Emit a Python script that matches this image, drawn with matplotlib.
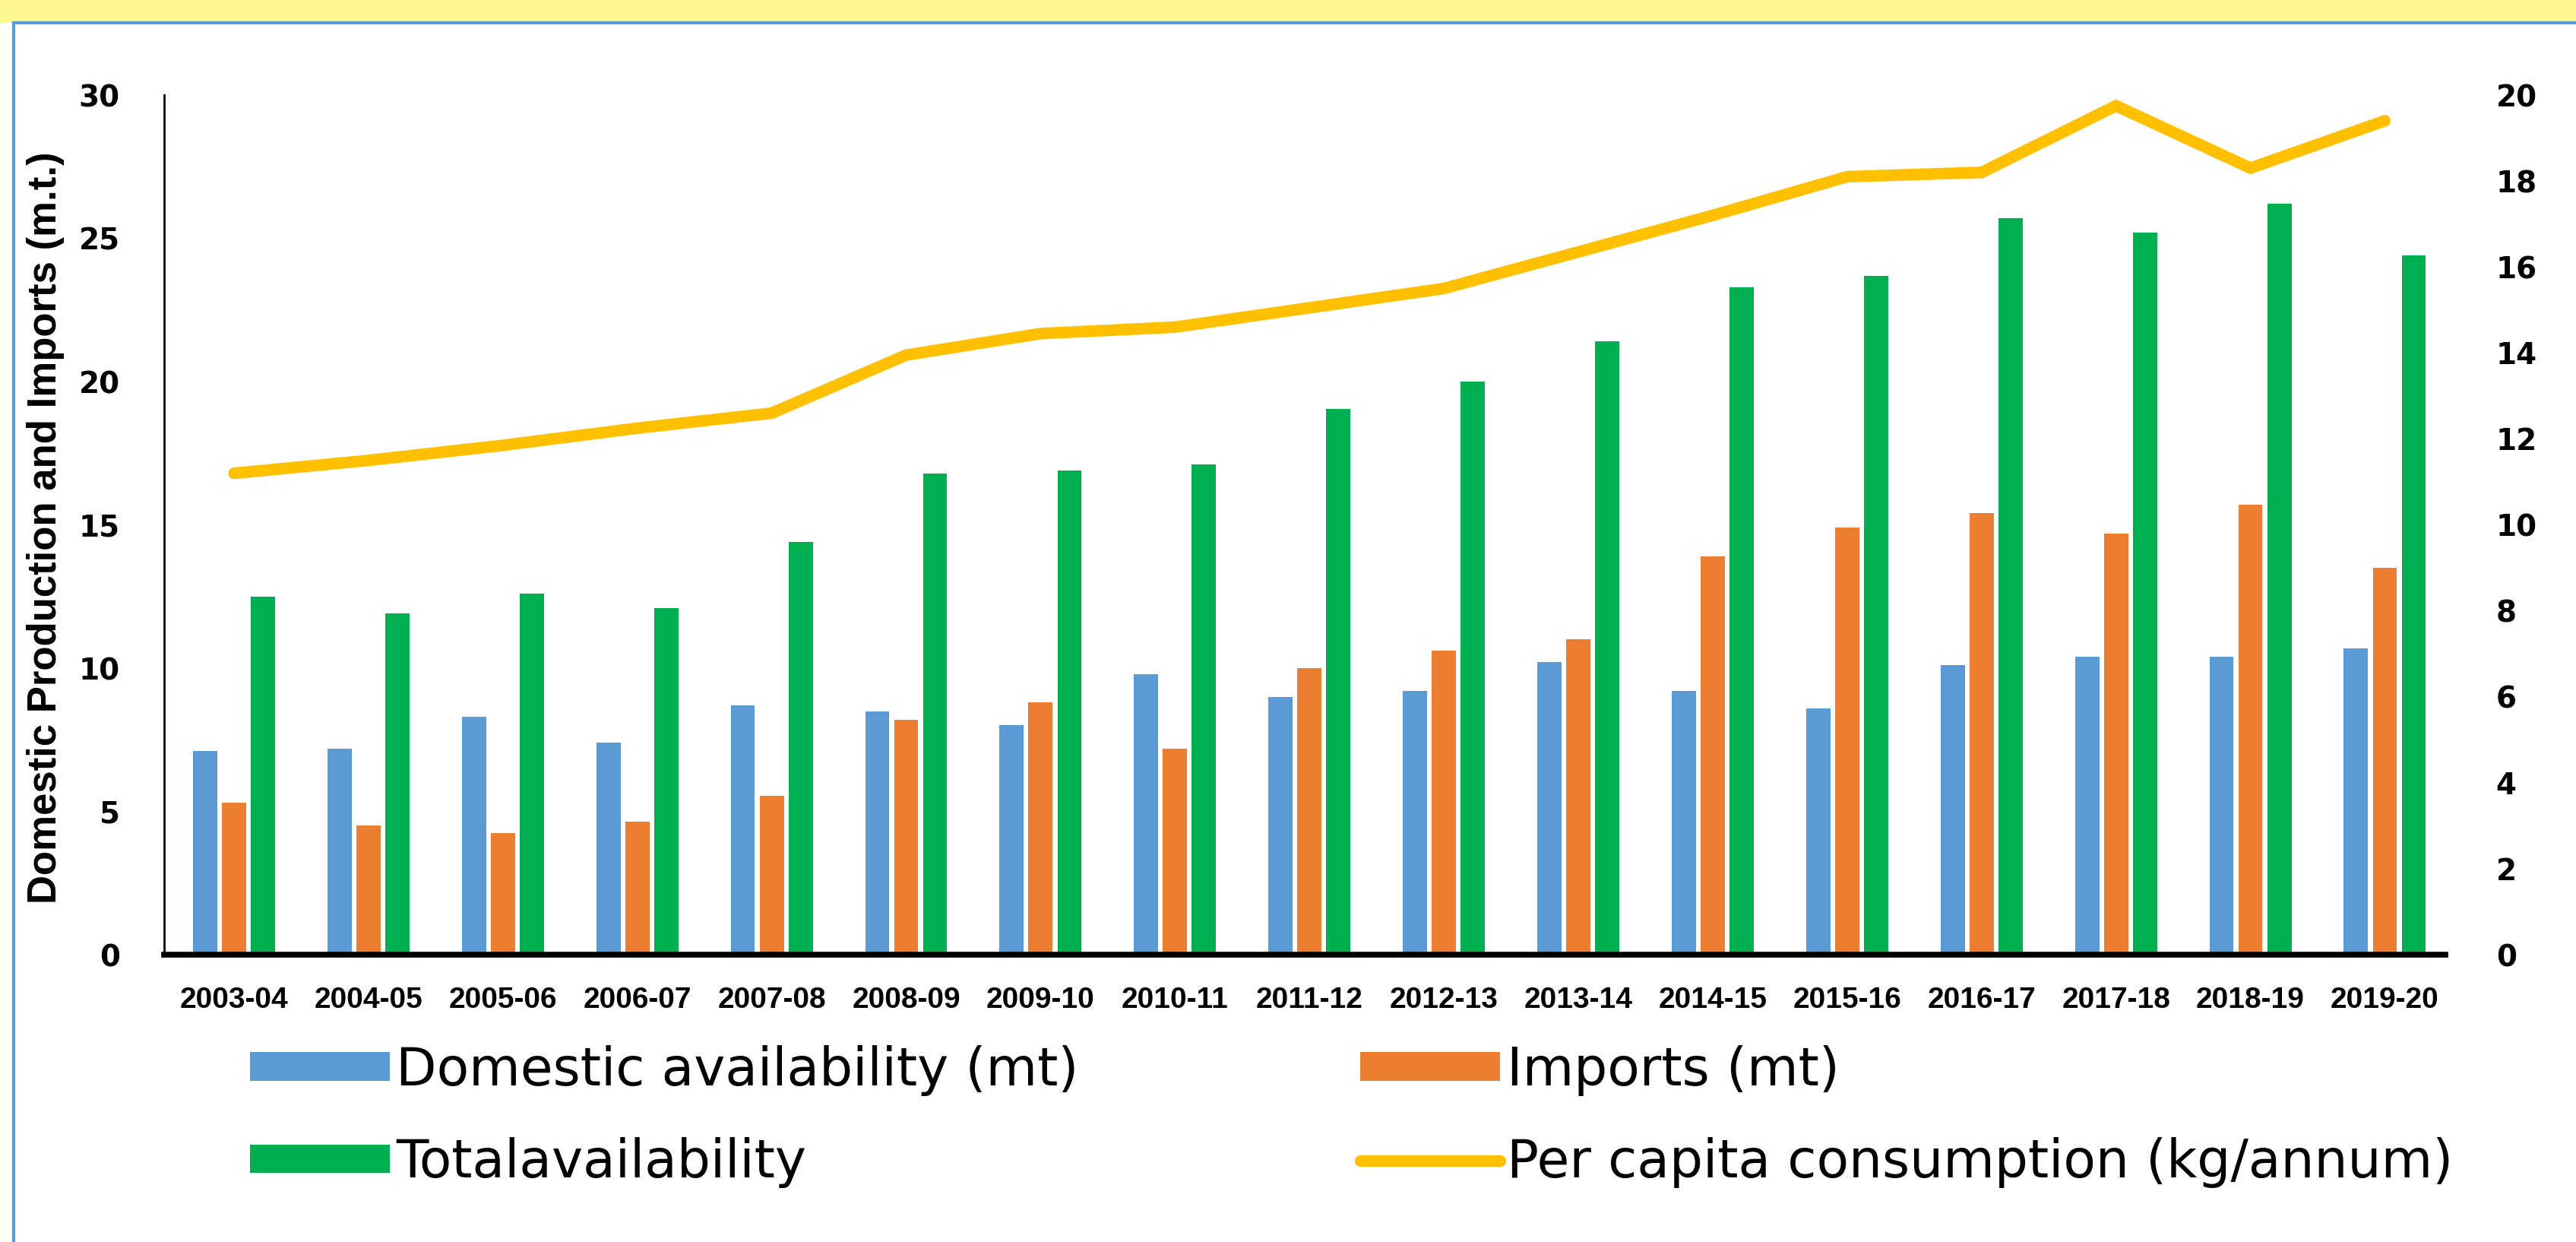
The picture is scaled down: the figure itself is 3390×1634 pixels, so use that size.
import numpy as np
import matplotlib
matplotlib.use("Agg")
import matplotlib.pyplot as plt
from matplotlib.patches import Rectangle, Patch
from matplotlib.lines import Line2D

years = ["2003-04", "2004-05", "2005-06", "2006-07", "2007-08", "2008-09", "2009-10",
         "2010-11", "2011-12", "2012-13", "2013-14", "2014-15", "2015-16", "2016-17",
         "2017-18", "2018-19", "2019-20"]
domestic = [7.1, 7.2, 8.3, 7.4, 8.7, 8.5, 8.0, 9.8, 9.0, 9.2, 10.2, 9.2, 8.6, 10.1, 10.4, 10.4, 10.7]
imports = [5.3, 4.5, 4.25, 4.65, 5.55, 8.2, 8.8, 7.2, 10.0, 10.6, 11.0, 13.9, 14.9, 15.4, 14.7, 15.7, 13.5]
total = [12.5, 11.9, 12.6, 12.1, 14.4, 16.8, 16.9, 17.1, 19.05, 20.0, 21.4, 23.3, 23.7, 25.7, 25.2, 26.2, 24.4]
per_capita = [11.2, 11.5, 11.85, 12.25, 12.6, 13.95, 14.45, 14.6, 15.05, 15.5, 16.35, 17.2, 18.1, 18.2, 19.75, 18.3, 19.4]

left_ticks = [0, 5, 10, 15, 20, 25, 30]
right_ticks = [0, 2, 4, 6, 8, 10, 12, 14, 16, 18, 20]

c_dom = "#5B9BD5"
c_imp = "#ED7D31"
c_tot = "#00B050"
c_line = "#FFC000"

arial = "Liberation Sans"

fig = plt.figure(figsize=(33.91, 16.34), dpi=100, facecolor="#FFFFF2")

# background: yellow band on top, white panel with blue border
fig.add_artist(Rectangle((0, 0.9816), 1, 0.02, transform=fig.transFigure,
                         facecolor="#FFF88F", edgecolor="none", zorder=0))
fig.add_artist(Rectangle((0.0052, -0.01), 1.0, 0.9916, transform=fig.transFigure,
                         facecolor="white", edgecolor="#5B9BD5", linewidth=3, zorder=0))

ax = fig.add_axes([0.0637, 0.2313, 0.8853, 0.6922])
ax.patch.set_alpha(0)

x = np.arange(len(years))
w = 0.18
ax.bar(x - 0.215, domestic, w, color=c_dom)
ax.bar(x, imports, w, color=c_imp)
ax.bar(x + 0.215, total, w, color=c_tot)

ax.set_xlim(-0.52, 16.45)
ax.set_ylim(0, 30)
ax.set_yticks(left_ticks)
ax.set_xticks(x)
ax.set_xticklabels(years, fontfamily=arial, fontweight="bold", fontsize=28)
ax.set_yticklabels([str(t) for t in left_ticks], fontfamily="DejaVu Sans", fontweight="bold", fontsize=28)
ax.tick_params(axis="x", length=0, pad=30)
ax.tick_params(axis="y", length=0, pad=42)
for s in ["top", "right"]:
    ax.spines[s].set_visible(False)
ax.spines["left"].set_linewidth(2)
ax.spines["bottom"].set_linewidth(5.5)
ax.set_ylabel("Domestic Production and Imports (m.t.)", fontfamily=arial,
              fontweight="bold", fontsize=38)
ax.yaxis.set_label_coords(-0.0435, 0.497)

ax2 = ax.twinx()
ax2.plot(x, per_capita, color=c_line, linewidth=11, solid_capstyle="round", solid_joinstyle="miter")
ax2.set_ylim(0, 20)
ax2.set_yticks(right_ticks)
ax2.set_yticklabels([str(t) for t in right_ticks], fontfamily="DejaVu Sans", fontweight="bold", fontsize=28)
ax2.tick_params(axis="y", length=0, pad=48)
for s in ["top", "right", "left", "bottom"]:
    ax2.spines[s].set_visible(False)

# legend, two columns placed separately
leg_font = {"family": "DejaVu Sans", "size": 50}
h1 = [Patch(facecolor=c_dom), Patch(facecolor=c_tot)]
l1 = ["Domestic availability (mt)", "Totalavailability"]
h2 = [Patch(facecolor=c_imp), Line2D([0], [0], color=c_line, linewidth=11, solid_capstyle="round")]
l2 = ["Imports (mt)", "Per capita consumption (kg/annum)"]
for hs, ls, xa in [(h1, l1, 0.097), (h2, l2, 0.528)]:
    fig.legend(hs, ls, loc="center left", bbox_to_anchor=(xa, 0.101), frameon=False,
               prop=leg_font, handlelength=2.65, handleheight=0.45, handletextpad=0.12,
               labelspacing=0.78, borderpad=0, borderaxespad=0)

fig.savefig("out.png", dpi=100, facecolor=fig.get_facecolor())
